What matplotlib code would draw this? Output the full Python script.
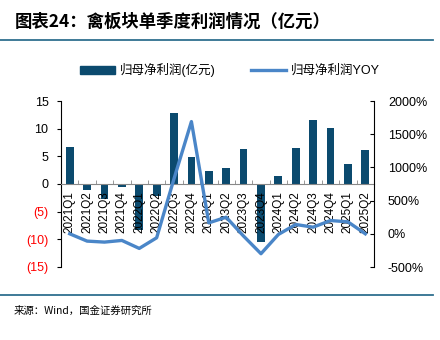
import numpy as np
import matplotlib
matplotlib.use('Agg')
import matplotlib.pyplot as plt
from matplotlib.lines import Line2D
from matplotlib.patches import Patch

plt.rcParams['font.family'] = ['Liberation Sans', 'Noto Sans CJK SC', 'DejaVu Sans']

quarters = ['2021Q1', '2021Q2', '2021Q3', '2021Q4', '2022Q1', '2022Q2', '2022Q3', '2022Q4', '2023Q1',
            '2023Q2', '2023Q3', '2023Q4', '2024Q1', '2024Q2', '2024Q3', '2024Q4', '2025Q1', '2025Q2']
profit = [6.7, -1.0, -2.7, -0.6, -8.4, -2.1, 12.9, 4.8, 2.4,
          2.9, 6.3, -10.4, 1.5, 6.5, 11.6, 10.1, 3.7, 6.1]
yoy = [0, -110, -125, -100, -220, -60, 830, 1690, 165,
       250, -35, -300, -10, 140, 100, 200, 180, 0]

left_ticks = [15, 10, 5, 0, -5, -10, -15]
left_labels = ['15', '10', '5', '0', '(5)', '(10)', '(15)']
right_ticks = [2000, 1500, 1000, 500, 0, -500]
right_labels = ['2000%', '1500%', '1000%', '500%', '0%', '-500%']

bar_color = '#0B4A6E'
line_color = '#4A86C8'
rule_color = '#2F6F8F'

fig = plt.figure(figsize=(4.4, 3.4), dpi=100)
ax = fig.add_axes([61 / 440, 1 - 267 / 340, 313 / 440, 166 / 340])
x = np.arange(len(quarters))

ax.bar(x, profit, width=0.45, color=bar_color, zorder=2)
ax.set_xlim(-0.5, len(quarters) - 0.5)
ax.set_ylim(-15, 15)
ax.set_yticks(left_ticks)
ax.set_yticklabels(left_labels, fontsize=9)
for t, v in zip(ax.get_yticklabels(), left_ticks):
    t.set_color('red' if v < 0 else 'black')
ax.tick_params(axis='y', direction='out', length=3, pad=6)

ax.spines['top'].set_visible(False)
ax.spines['right'].set_visible(False)
ax.spines['bottom'].set_position(('data', 0))
ax.spines['bottom'].set_color('#888888')
ax.spines['bottom'].set_zorder(3)
ax.set_xticks(x)
ax.set_xticklabels([])
ax.set_xticks(x[:-1] + 0.5, minor=True)
ax.tick_params(axis='x', which='major', length=0)
ax.tick_params(axis='x', which='minor', direction='in', length=3, color='#888888')
for xi, q in zip(x, quarters):
    ax.text(xi, -1.3, q, rotation=90, ha='center', va='top', fontsize=8.5, zorder=4)

ax2 = ax.twinx()
ax2.plot(x, yoy, color=line_color, lw=2.4, zorder=5)
ax2.set_ylim(-500, 2000)
ax2.set_yticks(right_ticks)
ax2.set_yticklabels(right_labels, fontsize=9)
ax2.tick_params(axis='y', direction='in', length=3, pad=10)
ax2.spines['top'].set_visible(False)
ax2.spines['left'].set_visible(False)
ax2.spines['bottom'].set_visible(False)

# 图例
handles = [Patch(color=bar_color), Line2D([0], [0], color=line_color, lw=2.4)]
fig.legend(handles, ['归母净利润(亿元)', '归母净利润YOY'], loc='center', bbox_to_anchor=(230 / 440, 1 - 70 / 340),
           ncol=2, frameon=False, fontsize=9, handlelength=2.8, handleheight=0.6, columnspacing=2.8,
           handletextpad=0.4)

# 标题、分隔线、来源
fig.text(15 / 440, 1 - 22 / 340, '图表24：禽板块单季度利润情况（亿元）', fontsize=12.5, fontweight='bold',
         style='italic', family=['Noto Sans CJK SC', 'DejaVu Sans'], va='center', ha='left')
fig.add_artist(Line2D([0, 433 / 440], [1 - 40 / 340] * 2, color=rule_color, lw=1.3))
fig.add_artist(Line2D([0, 433 / 440], [1 - 295 / 340] * 2, color=rule_color, lw=1.3))
fig.text(14 / 440, 1 - 311 / 340, '来源：Wind，国金证券研究所', fontsize=7.5,
         family=['Noto Sans CJK SC', 'DejaVu Sans'], va='center', ha='left')

fig.savefig('out.png', dpi=100)
